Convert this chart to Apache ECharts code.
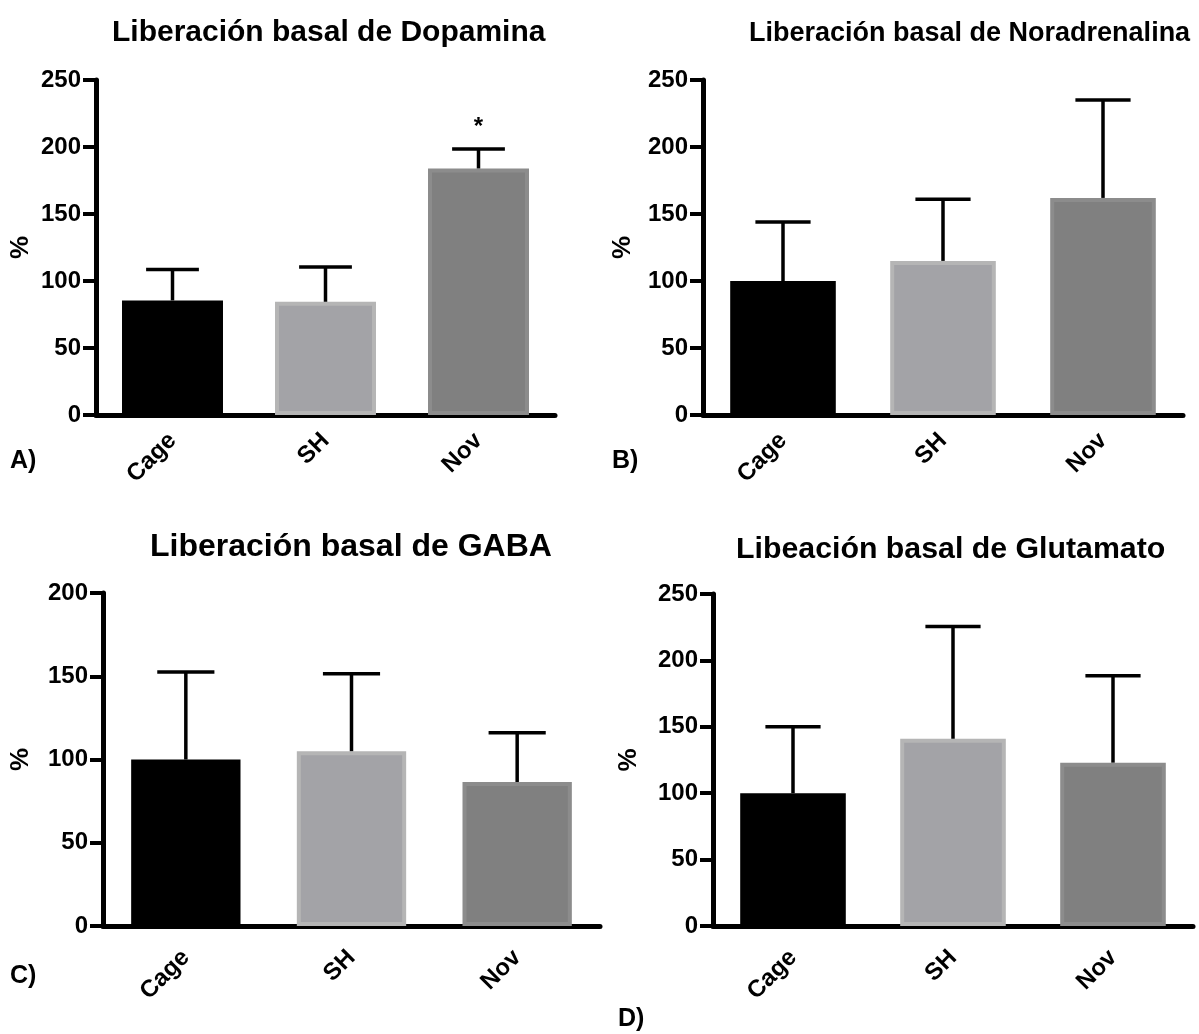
<!DOCTYPE html>
<html><head><meta charset="utf-8">
<script src="https://cdn.jsdelivr.net/npm/echarts@6/dist/echarts.min.js"></script>
<style>html,body{margin:0;padding:0;background:#fff}#c{width:1199px;height:1034px}</style>
</head><body><div id="c"></div>
<script>
// ---- data ----
const categories = ['Cage', 'SH', 'Nov'];
const dopaMean = [85.5, 84.5, 184];
const dopaSem = [23, 26, 14.5];
const dopaMarks = ['', '', '*'];
const noraMean = [100, 115, 162];
const noraSem = [44, 46, 73];
const gabaMean = [100, 105, 86.5];
const gabaSem = [52.5, 46.5, 29.5];
const gluMean = [100, 141, 123];
const gluSem = [50, 84.5, 65.5];
const yMaxes = [250, 250, 200, 250];
const yStep = 50;
const titles = ['Liberación basal de Dopamina', 'Liberación basal de Noradrenalina', 'Liberación basal de GABA', 'Libeación basal de Glutamato'];
const panelLetters = ['A)', 'B)', 'C)', 'D)'];
const yName = '%';

// ---- layout / style ----
const FONT = '"Liberation Sans", Arial, Helvetica, sans-serif';
const grids = [
  {left: 96, top: 80, width: 459, height: 335},
  {left: 703, top: 80, width: 480, height: 335},
  {left: 103, top: 593, width: 497, height: 333},
  {left: 713, top: 594, width: 480, height: 332}
];
const nameGaps = [62, 67, 69, 71];
const labelMargins = [22, 22, 28, 28];
const titlePos = [{left: 112, top: 18, size: 30}, {left: 749, top: 20, size: 27}, {left: 150, top: 531, size: 32}, {left: 736, top: 535, size: 30.3}];
const letterPos = [[10, 449], [612, 449], [10, 964], [618, 1007]];
const barFill = ['#000000', '#a3a3a7', '#808080'];
const barBorder = ['#000000', '#b5b5b5', '#8c8c8c'];

const panels = [
  {mean: dopaMean, sem: dopaSem, marks: dopaMarks},
  {mean: noraMean, sem: noraSem, marks: ['', '', '']},
  {mean: gabaMean, sem: gabaSem, marks: ['', '', '']},
  {mean: gluMean, sem: gluSem, marks: ['', '', '']}
];

const option = {
  backgroundColor: '#ffffff',
  animation: false,
  title: titles.map((t, k) => ({
    text: t, left: titlePos[k].left, top: titlePos[k].top, padding: 0,
    textStyle: {fontFamily: FONT, fontSize: titlePos[k].size, fontWeight: 'bold', color: '#000'}
  })),
  grid: grids,
  xAxis: grids.map((g, k) => ({
    type: 'category', gridIndex: k, data: categories,
    axisLine: {lineStyle: {color: '#000', width: 5}},
    axisTick: {alignWithLabel: true, length: 13, lineStyle: {color: '#000', width: 4}},
    axisLabel: {rotate: 45, margin: labelMargins[k], color: '#000', fontFamily: FONT, fontSize: 24, fontWeight: 'bold'}
  })),
  yAxis: grids.map((g, k) => ({
    type: 'value', gridIndex: k, min: 0, max: yMaxes[k], interval: yStep,
    name: yName, nameLocation: 'middle', nameRotate: 90, nameGap: nameGaps[k],
    nameTextStyle: {fontFamily: FONT, fontSize: 26, fontWeight: 'bold', color: '#000'},
    splitLine: {show: false},
    axisLine: {show: true, lineStyle: {color: '#000', width: 5}},
    axisTick: {show: true, length: 13, lineStyle: {color: '#000', width: 4}},
    axisLabel: {margin: 15, color: '#000', fontFamily: FONT, fontSize: 24, fontWeight: 'bold'}
  })),
  series: [],
  graphic: panelLetters.map((t, k) => ({
    type: 'text', left: letterPos[k][0], top: letterPos[k][1],
    style: {text: t, font: 'bold 25px ' + FONT, fill: '#000'}
  }))
};

panels.forEach((p, k) => {
  option.series.push({
    type: 'bar', xAxisIndex: k, yAxisIndex: k, barWidth: '66%',
    data: p.mean.map((v, i) => ({value: v, itemStyle: {color: barFill[i], borderColor: barBorder[i], borderWidth: 4}})),
    z: 2
  });
  const marks = p.marks;
  option.series.push({
    type: 'custom', xAxisIndex: k, yAxisIndex: k, z: 3,
    encode: {x: 0, y: [1, 2]},
    data: p.mean.map((v, i) => [i, v, v + p.sem[i]]),
    renderItem: function (params, api) {
      const i = api.value(0);
      const p0 = api.coord([i, api.value(1)]);
      const p1 = api.coord([i, api.value(2)]);
      const bw = api.size([1, 0])[0];
      const cap = bw * 0.345 / 2;
      const st = {stroke: '#000', lineWidth: 3.5};
      const children = [
        {type: 'line', shape: {x1: p0[0], y1: p0[1], x2: p1[0], y2: p1[1]}, style: st},
        {type: 'line', shape: {x1: p1[0] - cap, y1: p1[1], x2: p1[0] + cap, y2: p1[1]}, style: st}
      ];
      if (marks[i]) {
        children.push({type: 'text', x: p1[0], y: p1[1] - 22,
          style: {text: marks[i], font: 'bold 24px ' + FONT, fill: '#000', textAlign: 'center', textVerticalAlign: 'middle'}});
      }
      return {type: 'group', children: children};
    }
  });
});

const chart = echarts.init(document.getElementById('c'), null, {renderer: 'canvas'});
chart.setOption(option);
</script></body></html>
